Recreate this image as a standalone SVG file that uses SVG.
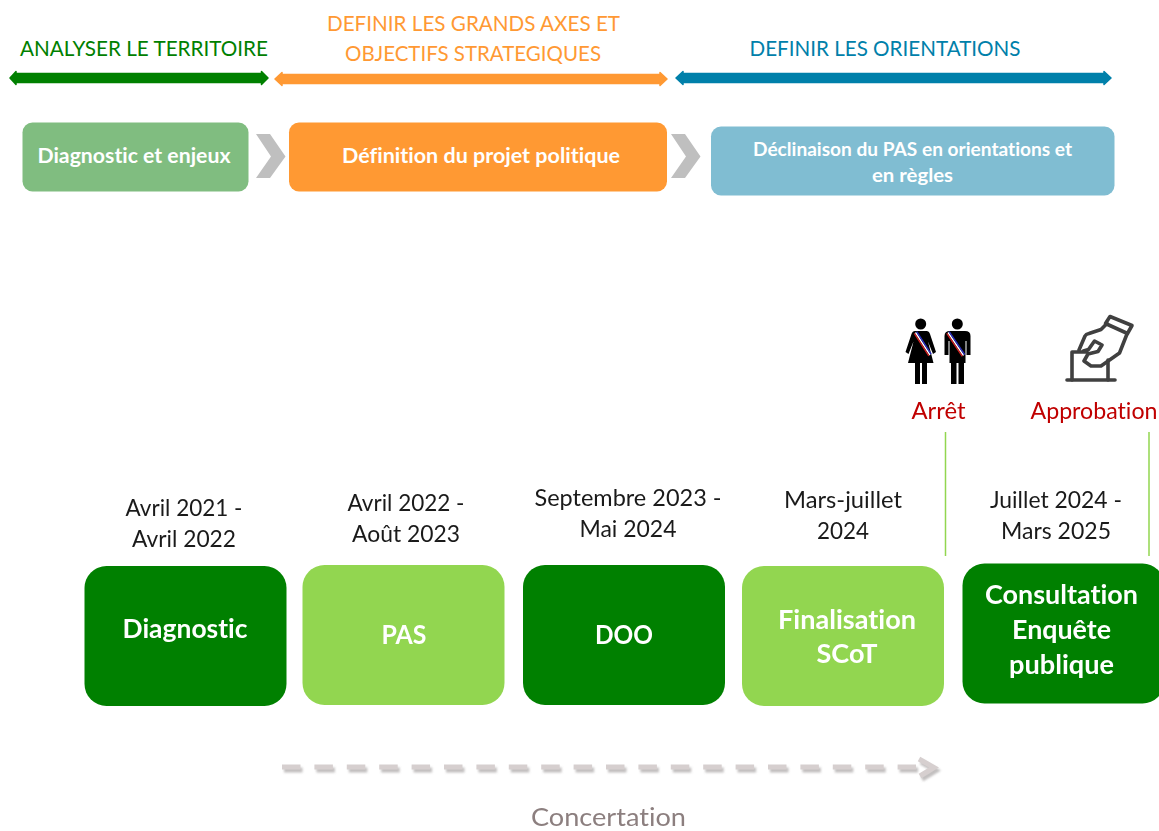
<svg xmlns="http://www.w3.org/2000/svg" width="1159" height="831" viewBox="0 0 1159 831">
<style>
text{font-family:Lato,"Open Sans","Liberation Sans",sans-serif;text-anchor:middle;font-variant-ligatures:none}
.h{font-size:21px}
.b{font-weight:700;fill:#fff}
.d{font-size:23px;fill:#1a1a1a}
.r{font-size:23px;fill:#c00000}
.big{font-size:26px;font-weight:700;fill:#fff}
.chev{fill:#bfbfbf}
.dk{fill:#008000}
.lt{fill:#92d650}
.arr{stroke-width:1.500;stroke-linejoin:round}
.ic{stroke:#404040;stroke-width:3.600;fill:none;stroke-linejoin:round;stroke-linecap:round}
.sh{stroke:#8f8a8a;stroke-width:5;fill:none;opacity:.55}
.fg{stroke:#d6cfcf;stroke-width:5;fill:none}
.bl{stroke:#2a30c8;stroke-width:1.300}
.wh{stroke:#fff;stroke-width:1.400}
.rd{stroke:#d42020;stroke-width:1.300}
</style>
<defs><filter id="sh" x="-5%" y="-200%" width="110%" height="500%"><feGaussianBlur stdDeviation="1.200"/></filter></defs>
<rect width="1159" height="831" fill="#fff"/>
<g id="phase-1"><text class="h" x="144" y="56" fill="#008000" textLength="248" lengthAdjust="spacingAndGlyphs">ANALYSER LE TERRITOIRE</text>
<path class="arr" d="M10 78L16 71.500V73.500H261.500V71.500L268 78L261.500 84.500V82.500H16V84.500Z" fill="#008000" stroke="#008000"/></g>
<g id="phase-2"><text class="h" x="473.500" y="31" fill="#ff9933" textLength="293" lengthAdjust="spacingAndGlyphs">DEFINIR LES GRANDS AXES ET</text><text class="h" x="473" y="61" fill="#ff9933" textLength="256" lengthAdjust="spacingAndGlyphs">OBJECTIFS STRATEGIQUES</text>
<path class="arr" d="M275 79L282 72.500V74.500H660V72.500L667 79L660 85.500V83.500H282V85.500Z" fill="#ff9933" stroke="#ff9933"/></g>
<g id="phase-3"><text class="h" x="885" y="56" fill="#0080aa" textLength="271" lengthAdjust="spacingAndGlyphs">DEFINIR LES ORIENTATIONS</text>
<path class="arr" d="M676 78L683 71.500V73.500H1104V71.500L1111 78L1104 84.500V82.500H683V84.500Z" fill="#0080aa" stroke="#0080aa"/></g>
<g id="step-diagnostic"><rect x="22.500" y="122.500" width="226" height="69" rx="10" fill="#80bd80"/><text class="b" x="134" y="163" font-size="20" textLength="193" lengthAdjust="spacingAndGlyphs">Diagnostic et enjeux</text></g>
<g id="step-definition"><rect x="289" y="122.500" width="378" height="69" rx="10" fill="#ff9933"/><text class="b" x="481" y="163" font-size="20" textLength="278" lengthAdjust="spacingAndGlyphs">Définition du projet politique</text></g>
<g id="step-declinaison"><rect x="711" y="126.500" width="403.500" height="69" rx="10" fill="#80bdd2"/><text class="b" x="912.500" y="156" font-size="18" textLength="319" lengthAdjust="spacingAndGlyphs">Déclinaison du PAS en orientations et</text><text class="b" x="912.500" y="182" font-size="18" textLength="81" lengthAdjust="spacingAndGlyphs">en règles</text></g>
<g id="connectors">
<path class="chev" d="M256 134H270L285.500 156.500L270 178H256L271 156.500Z"/>
<path class="chev" d="M671 134H685L700.500 156.500L685 178H671L686 156.500Z"/>
<path d="M945.500 432V556M1149 432V556" stroke="#92d650" stroke-width="1.500" fill="none"/>
<g filter="url(#sh)" transform="translate(2 3)"><path class="sh" d="M282 767H916" stroke-dasharray="18.500 13.900"/><path class="sh" d="M919 759L934 767.500L920 776"/></g>
<path class="fg" d="M282 767H916" stroke-dasharray="18.500 13.900"/>
<path class="fg" d="M919 759L934 767.500L920 776"/>
</g>
<g id="elus">
<circle cx="920.700" cy="324" r="5.500"/>
<path d="M915 331H926.500Q929 331 930 334L936 352L933 354L928 341.500L933.500 363H927V384H922V363H920V384H915V363H908L913.500 341.500L908.500 354L905.500 352L911.500 334Q912.500 331 915 331Z"/>
<path class="wh" d="M915.500 332.500L930 355"/><path class="bl" d="M916.700 331.700L931.200 354.200"/><path class="rd" d="M914.300 333.300L928.800 355.800"/>
<circle cx="957.300" cy="324" r="5.500"/>
<path d="M950 331H965Q970.500 331 970.500 336V355H966.500V341H965.500V363H964V384H958.500V363H956.500V384H951V363H949.500V341H948.500V355H944.500V336Q944.500 331 950 331Z"/>
<path class="wh" d="M948 332.500L963.500 355.500"/><path class="bl" d="M949.200 331.700L964.700 354.700"/><path class="rd" d="M946.800 333.300L962.300 356.300"/>
<text class="r" x="938.500" y="419" textLength="54" lengthAdjust="spacingAndGlyphs">Arrêt</text></g>
<g id="vote">
<path class="ic" d="M1067 380H1115"/>
<path class="ic" d="M1072 380V352H1087M1108 380V360"/>
<path class="ic" d="M1079 350L1085 336Q1086 334 1089 333.500L1101 329.500L1107 323.500M1127 334L1119.500 353L1101 366H1091L1084 361L1088 354L1098 351.500L1102 345L1094.500 341L1088.500 349.500L1083.500 351"/>
<path class="ic" d="M1110 316.500L1132 325.500L1127.500 333.500L1105.500 323.500Z"/>
<text class="r" x="1094" y="419" textLength="127" lengthAdjust="spacingAndGlyphs">Approbation</text></g>
<g id="n-diagnostic"><text class="d" x="184" y="516" textLength="117" lengthAdjust="spacingAndGlyphs">Avril 2021 -</text><text class="d" x="184" y="547" textLength="104" lengthAdjust="spacingAndGlyphs">Avril 2022</text><rect class="dk" x="84.500" y="566" width="202" height="140" rx="22"/><text class="big" x="185" y="638" textLength="125" lengthAdjust="spacingAndGlyphs">Diagnostic</text></g>
<g id="n-pas"><text class="d" x="406" y="511" textLength="117" lengthAdjust="spacingAndGlyphs">Avril 2022 -</text><text class="d" x="406" y="542" textLength="108" lengthAdjust="spacingAndGlyphs">Août 2023</text><rect class="lt" x="302.500" y="565" width="202" height="140" rx="22"/><text class="big" x="404" y="644" textLength="45" lengthAdjust="spacingAndGlyphs">PAS</text></g>
<g id="n-doo"><text class="d" x="628" y="506" textLength="187" lengthAdjust="spacingAndGlyphs">Septembre 2023 -</text><text class="d" x="628" y="537" textLength="97" lengthAdjust="spacingAndGlyphs">Mai 2024</text><rect class="dk" x="523" y="565" width="202" height="140" rx="22"/><text class="big" x="624" y="644" textLength="58" lengthAdjust="spacingAndGlyphs">DOO</text></g>
<g id="n-finalisation"><text class="d" x="843" y="508" textLength="118" lengthAdjust="spacingAndGlyphs">Mars-juillet</text><text class="d" x="843" y="539" textLength="52" lengthAdjust="spacingAndGlyphs">2024</text><rect class="lt" x="742" y="566" width="202" height="140" rx="22"/><text class="big" x="847" y="629" textLength="138" lengthAdjust="spacingAndGlyphs">Finalisation</text><text class="big" x="847" y="663" textLength="61" lengthAdjust="spacingAndGlyphs">SCoT</text></g>
<g id="n-consultation"><text class="d" x="1056" y="508" textLength="132" lengthAdjust="spacingAndGlyphs">Juillet 2024 -</text><text class="d" x="1056" y="539" textLength="110" lengthAdjust="spacingAndGlyphs">Mars 2025</text><rect class="dk" x="962.500" y="563.500" width="202" height="140" rx="22"/><text class="big" x="1061.500" y="604" textLength="153" lengthAdjust="spacingAndGlyphs">Consultation</text><text class="big" x="1061.500" y="639" textLength="99" lengthAdjust="spacingAndGlyphs">Enquête</text><text class="big" x="1061.500" y="674" textLength="105" lengthAdjust="spacingAndGlyphs">publique</text></g>
<text x="608.500" y="825.500" font-size="25" fill="#8c7f7f" textLength="155" lengthAdjust="spacingAndGlyphs">Concertation</text>
</svg>
